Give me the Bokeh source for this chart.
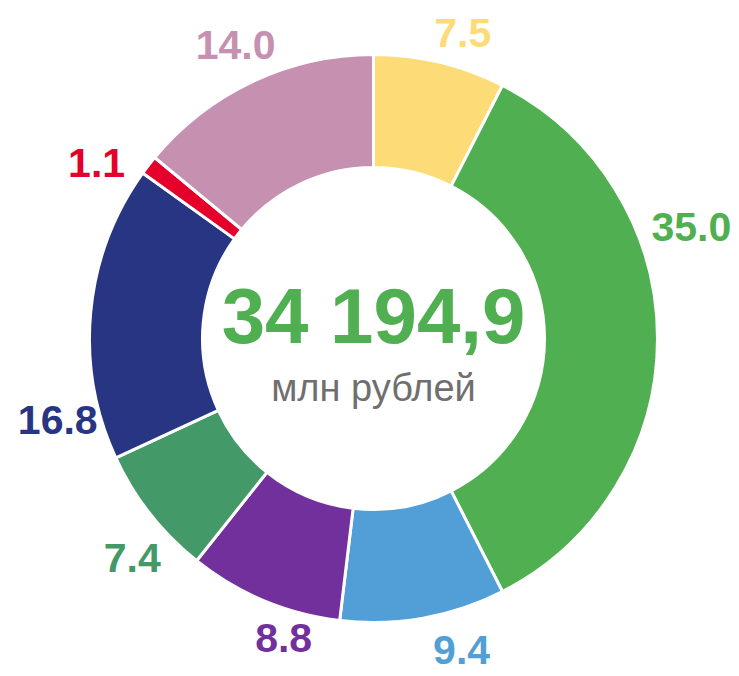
import math
from bokeh.plotting import figure
from bokeh.models import Range1d, ColumnDataSource
from bokeh.core.properties import value
from bokeh.embed import file_html
from bokeh.resources import INLINE

# ---- data ----
shares = [7.5, 35.0, 9.4, 8.8, 7.4, 16.8, 1.1, 14.0]
labels = ["7.5", "35.0", "9.4", "8.8", "7.4", "16.8", "1.1", "14.0"]
colors = ["#FDDB77", "#50AF50", "#529FD7", "#71309B", "#449968", "#283583", "#E4002B", "#C690B0"]
total_text = "34 194,9"
unit_text = "млн рублей"

# ---- layout (not data) ----
W, H = 739, 676
cx, cy = 373, 338
R_OUT, R_IN = 284, 171
label_nudge_deg = [-2.8, 19.4, 5.7, 6.0, 4.1, 19.8, 5.2, 0.0]
label_radius = [318, 337, 324, 313, 326, 326, 328, 324]

tot = sum(shares)
starts, ends, lx, ly = [], [], [], []
cum = 0.0
for i, v in enumerate(shares):
    a_hi = math.pi / 2 - 2 * math.pi * cum / tot
    a_lo = math.pi / 2 - 2 * math.pi * (cum + v) / tot
    starts.append(a_lo)
    ends.append(a_hi)
    mid = (a_lo + a_hi) / 2 + math.radians(label_nudge_deg[i])
    lx.append(cx + label_radius[i] * math.cos(mid))
    ly.append(cy + label_radius[i] * math.sin(mid))
    cum += v

src = ColumnDataSource(dict(x=[cx] * len(shares), y=[cy] * len(shares),
                            start=starts, end=ends, color=colors))
lsrc = ColumnDataSource(dict(x=lx, y=ly, text=labels, color=colors))

p = figure(width=W, height=H, output_backend="svg", toolbar_location=None,
           x_range=Range1d(0, W), y_range=Range1d(0, H),
           x_axis_location=None, y_axis_location=None, min_border=0,
           outline_line_color=None, background_fill_color="white",
           border_fill_color="white")
p.grid.visible = False

p.annular_wedge(x="x", y="y", inner_radius=R_IN, outer_radius=R_OUT,
                start_angle="start", end_angle="end", direction="anticlock",
                fill_color="color", line_color="white", line_width=3, source=src)

p.text(x="x", y="y", text="text", text_color="color", source=lsrc,
       text_font=value("Liberation Sans"), text_font_style="bold",
       text_font_size="41px", text_align="center", text_baseline="middle")

p.text(x=[cx], y=[H - 315], text=[total_text], text_color="#50AF50",
       text_font=value("Liberation Sans"), text_font_style="bold",
       text_font_size="78px", text_align="center", text_baseline="alphabetic")
p.text(x=[cx], y=[H - 387], text=[unit_text], text_color="#6F6F6F",
       text_font=value("Liberation Sans"), text_font_size="38px",
       text_align="center", text_baseline="alphabetic")

open("out.html", "w").write(file_html(p, INLINE))
